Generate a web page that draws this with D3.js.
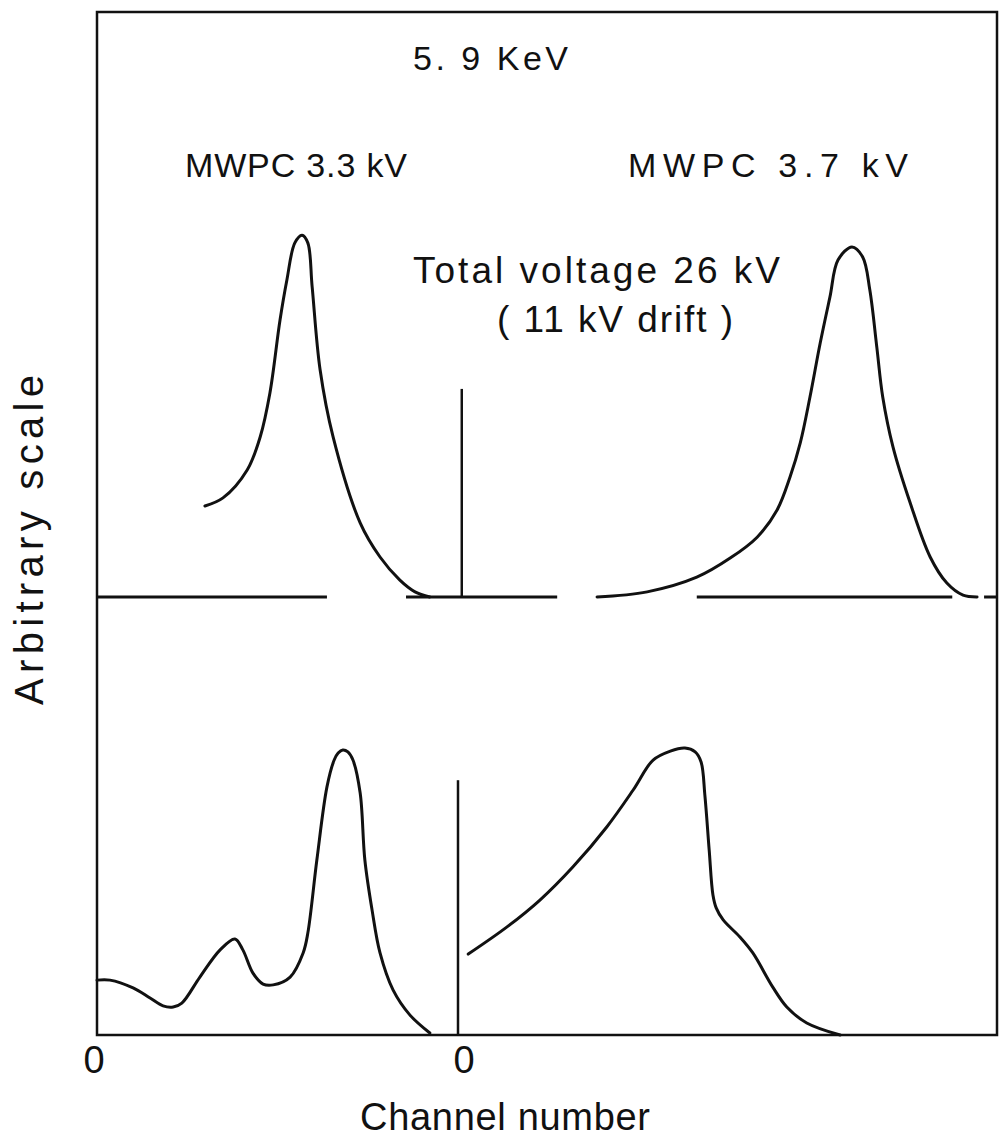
<!DOCTYPE html>
<html><head><meta charset="utf-8">
<script src="https://cdn.jsdelivr.net/npm/d3@7/dist/d3.min.js"></script>
<style>body{margin:0;background:#fff}svg text{font-family:"Liberation Sans",Arial,sans-serif;fill:#111}</style>
</head><body><div id="chart"></div>
<script>
// Channel (0-100 per sub-plot) and counts (arbitrary units)
const upperLeftPeak = [[29.9,24.8],[34.9,27.0],[41.6,34.6],[45.2,43.6],[47.9,55.6],[50.7,75.5],[52.6,86.4],[54.8,96.5],[56.8,98.6],[58.4,96.5],[59.6,84.5],[61.8,61.9],[65.4,43.6],[72.9,20.2],[78.4,10.9],[83.9,4.6],[88.1,1.4],[92.2,0]];
const upperRightPeak = [[25.8,0],[35.1,1.4],[44.3,5.4],[50.5,10.6],[55.5,16.3],[59.2,23.7],[61.6,32.7],[63.5,42.0],[65.3,54.5],[67.2,69.2],[69.0,81.7],[70.5,91.8],[73.1,95.4],[75.1,92.6],[76.4,83.7],[77.7,68.1],[78.8,54.5],[80.7,40.9],[83.9,25.6],[87.6,10.9],[90.7,3.8],[93.7,0.5],[96.3,0]];
const lowerLeftPeak = [[0,19.6],[3.6,19.6],[10.0,16.8],[14.7,13.2],[18.3,10.4],[21.1,10.0],[23.5,11.4],[28.5,20.7],[34.1,30.4],[38.2,34.3],[40.4,30.4],[43.2,22.1],[46.0,18.2],[48.8,17.9],[53.5,20.7],[57.1,29.3],[58.4,36.4],[60.9,62.5],[63.7,88.6],[65.7,98.2],[66.8,100.7],[68.1,101.8],[69.5,101.1],[70.9,98.2],[72.9,86.4],[74.2,62.5],[76.2,44.6],[78.4,29.3],[82.0,16.1],[86.7,7.1],[92.2,0.7]];
const lowerRightPeak = [[1.9,28.9],[9.1,38.6],[15.2,48.2],[21.3,60.0],[27.6,74.3],[32.5,87.5],[36.2,98.2],[39.4,101.4],[42.1,102.5],[44.0,101.1],[45.1,97.5],[45.8,85.7],[46.6,66.1],[47.3,50.0],[47.9,45.4],[49.2,41.1],[52.3,35.0],[54.7,29.3],[58.4,17.1],[61.0,10.0],[64.7,4.3],[70.9,0]];
const upperBaselineLeft = [[0,63.7],[85.6,100]];
const upperBaselineRight = [[0,18.4],[44.3,91.7],[97.6,100]];
const zeroLines = [{panel:"upper",ch:0.7,top:56.7},{panel:"lower",ch:0,top:91}];
const zeroLabels = [{side:"left",text:"0"},{side:"right",text:"0"}];

const W=1001,H=1145;
const svg=d3.select("#chart").append("svg").attr("width",W).attr("height",H);
const xLeft=d3.scaleLinear().domain([0,100]).range([97,458]);
const xRight=d3.scaleLinear().domain([0,100]).range([458,997]);
const yUpper=d3.scaleLinear().domain([0,100]).range([597,230]);
const yLower=d3.scaleLinear().domain([0,100]).range([1035,755]);

// frame
svg.append("rect").attr("x",xLeft(0)).attr("y",12).attr("width",xRight(100)-xLeft(0)).attr("height",yLower(0)-12)
  .attr("fill","none").attr("stroke","#111").attr("stroke-width",2.5);

function curve(data,xs,ys){
  svg.append("path").datum(data)
    .attr("d",d3.line().x(d=>xs(d[0])).y(d=>ys(d[1])).curve(d3.curveCatmullRom.alpha(0.5)))
    .attr("fill","none").attr("stroke","#111").attr("stroke-width",3).attr("stroke-linecap","round");
}
curve(upperLeftPeak,xLeft,yUpper);
curve(upperRightPeak,xRight,yUpper);
curve(lowerLeftPeak,xLeft,yLower);
curve(lowerRightPeak,xRight,yLower);

upperBaselineLeft.forEach(s=>svg.append("line").attr("x1",xLeft(s[0])).attr("x2",xLeft(s[1]))
  .attr("y1",yUpper(0)).attr("y2",yUpper(0)).attr("stroke","#111").attr("stroke-width",3));
upperBaselineRight.forEach(s=>svg.append("line").attr("x1",xRight(s[0])).attr("x2",xRight(s[1]))
  .attr("y1",yUpper(0)).attr("y2",yUpper(0)).attr("stroke","#111").attr("stroke-width",3));
zeroLines.forEach(z=>{const ys=z.panel==="upper"?yUpper:yLower;
  svg.append("line").attr("x1",xRight(z.ch)).attr("x2",xRight(z.ch)).attr("y1",ys(0)).attr("y2",ys(z.top))
   .attr("stroke","#111").attr("stroke-width",2.5);});

// tick labels
zeroLabels.forEach(l=>{const xs=l.side==="left"?xLeft:xRight;
  svg.append("text").attr("x",xs(0)-3+(l.side==="right"?9:0)).attr("y",1073).attr("text-anchor","middle")
   .attr("font-size",38).text(l.text);});

function label(t,x,y,size,len){const e=svg.append("text").attr("x",x).attr("y",y).attr("font-size",size).text(t);
  if(len) e.attr("textLength",len).attr("lengthAdjust","spacing"); return e;}
label("5. 9  KeV",413,70,34,155);
label("MWPC  3.3 kV",185,177,34,222);
label("MWPC  3.7  kV",628,177,34,280);
label("Total   voltage  26 kV",413,283,37,367);
label("( 11 kV  drift )",497,332,37,236);
label("Channel  number",360,1130,38,290);
svg.append("text").attr("transform","translate(43,540) rotate(-90)").attr("text-anchor","middle")
  .attr("font-size",40).attr("textLength",330).attr("lengthAdjust","spacing").text("Arbitrary   scale");
</script></body></html>
